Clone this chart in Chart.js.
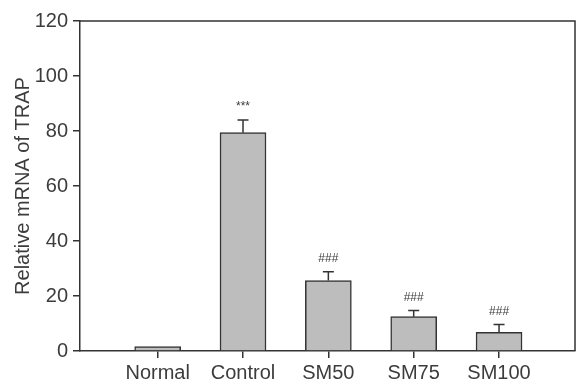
<!DOCTYPE html>
<html>
<head>
<meta charset="utf-8">
<script src="https://cdn.jsdelivr.net/npm/chart.js@4/dist/chart.umd.min.js"></script>
<style>
html,body{margin:0;padding:0;background:#fff;}
#wrap{width:576px;height:386px;}
</style>
</head>
<body>
<div id="wrap"><canvas id="c" width="576" height="386"></canvas></div>
<script>
const categories = ['Normal', 'Control', 'SM50', 'SM75', 'SM100'];
const means = [1.6, 79.4, 25.6, 12.5, 6.8];
const errors = [0, 4.6, 3.2, 2.2, 2.8];
const marks = ['', '***', '###', '###', '###'];
const yTicks = [0, 20, 40, 60, 80, 100, 120];

const FONT = "'Liberation Sans', Arial, sans-serif";
const INK = '#333333';
const TXT = '#3c3c3c';

const extras = {
  id: 'extras',
  afterDatasetsDraw(chart) {
    const ctx = chart.ctx;
    const ys = chart.scales.y;
    const meta = chart.getDatasetMeta(0);
    const ca = chart.chartArea;
    ctx.save();
    ctx.strokeStyle = INK;
    ctx.lineWidth = 1.5;
    ctx.beginPath();
    ctx.moveTo(ca.left, ca.top);
    ctx.lineTo(ca.right, ca.top);
    ctx.lineTo(ca.right, ca.bottom);
    ctx.stroke();
    meta.data.forEach((bar, i) => {
      const x = bar.x;
      const yTop = ys.getPixelForValue(means[i]);
      const yErr = ys.getPixelForValue(means[i] + errors[i]);
      if (errors[i] > 0) {
        ctx.beginPath();
        ctx.moveTo(x, yTop);
        ctx.lineTo(x, yErr);
        ctx.moveTo(x - 5.5, yErr);
        ctx.lineTo(x + 5.5, yErr);
        ctx.stroke();
      }
      if (marks[i]) {
        ctx.fillStyle = TXT;
        ctx.font = '12px ' + FONT;
        ctx.textAlign = 'center';
        ctx.textBaseline = 'middle';
        ctx.fillText(marks[i], x, yErr - 13);
      }
    });
    ctx.restore();
  }
};

new Chart(document.getElementById('c'), {
  type: 'bar',
  data: {
    datasets: [{
      data: means.map((v, i) => ({ x: i, y: v })),
      backgroundColor: '#bdbdbd',
      borderColor: INK,
      borderWidth: 1.5,
      barThickness: 46
    }]
  },
  options: {
    responsive: false,
    animation: false,
    layout: { padding: { top: 21, right: 1, left: 0, bottom: 0 } },
    plugins: { legend: { display: false }, tooltip: { enabled: false } },
    scales: {
      x: {
        type: 'linear',
        offset: false,
        min: -0.91,
        max: 4.89,
        afterBuildTicks: axis => { axis.ticks = categories.map((c, i) => ({ value: i })); },
        afterFit: axis => { axis.height = 35; },
        grid: { offset: false, drawOnChartArea: false, drawTicks: true, tickLength: 7, color: INK, lineWidth: 1.5 },
        border: { color: INK, width: 1.5 },
        ticks: {
          autoSkip: false,
          maxRotation: 0,
          padding: 3,
          color: TXT,
          font: { family: FONT, size: 20 },
          callback: v => categories[v] ?? ''
        }
      },
      y: {
        min: 0,
        max: 120,
        afterBuildTicks: axis => { axis.ticks = yTicks.map(v => ({ value: v })); },
        afterFit: axis => { axis.width = 80; },
        grid: { drawOnChartArea: false, drawTicks: true, tickLength: 7, color: INK, lineWidth: 1.5 },
        border: { color: INK, width: 1.5 },
        ticks: {
          padding: 5,
          color: TXT,
          font: { family: FONT, size: 20 }
        },
        title: {
          display: true,
          text: 'Relative mRNA of TRAP',
          color: TXT,
          font: { family: FONT, size: 20 },
          padding: { top: 11, bottom: 0 }
        }
      }
    }
  },
  plugins: [extras]
});
</script>
</body>
</html>
